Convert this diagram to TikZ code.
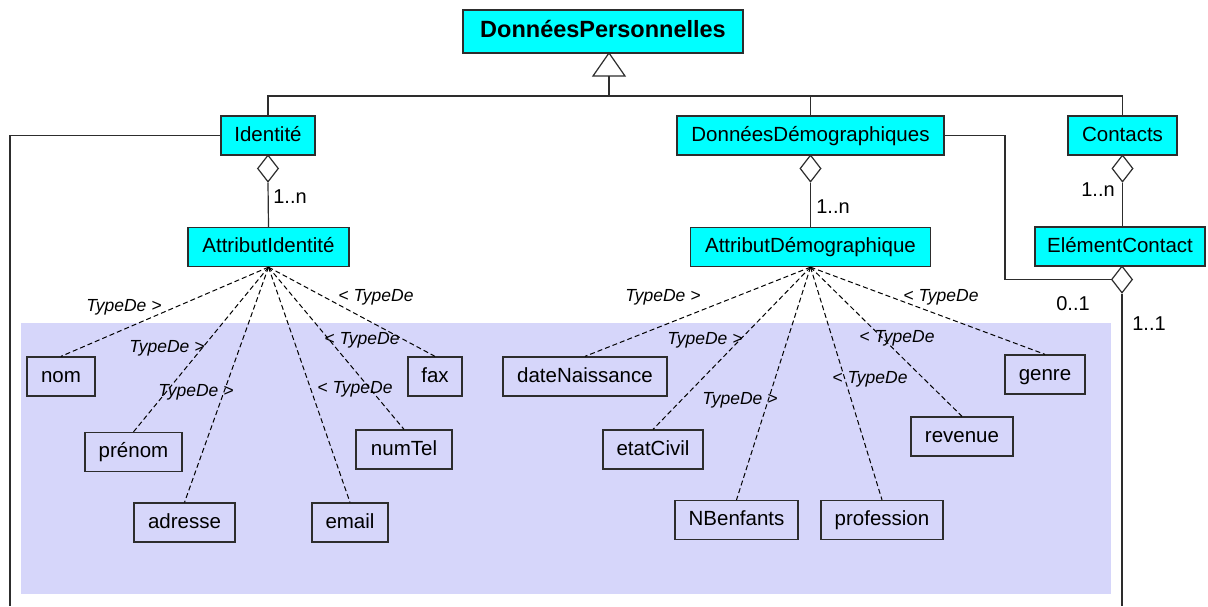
\documentclass[tikz,border=0pt]{standalone}
\usepackage{fontspec}
\setmainfont{Liberation Sans}
\usetikzlibrary{shapes.geometric}
\definecolor{cls}{RGB}{0,255,255}
\definecolor{lavbg}{RGB}{214,214,250}
\definecolor{edge}{RGB}{45,45,45}
\begin{document}
\begin{tikzpicture}[x=1pt,y=-1pt,
 cbox/.style={draw=edge, line width=1.3pt, fill=cls, inner sep=0pt, minimum height=39pt, text height=15pt, text depth=4pt, font=\fontsize{20.5}{24}\selectfont},
 abox/.style={draw=edge, line width=1.3pt, fill=lavbg, inner sep=0pt, minimum height=39pt, text height=15pt, text depth=4pt, font=\fontsize{20.5}{24}\selectfont},
 agg/.style={diamond, draw=edge, line width=1.2pt, fill=white, inner sep=0pt, minimum width=21pt, minimum height=27pt},
 conn/.style={draw=edge, line width=1.2pt},
 dep/.style={draw=black, line width=1pt, dash pattern=on 5pt off 3pt},
 tlab/.style={font=\fontsize{17.5}{19}\selectfont\itshape, inner sep=0pt},
 mult/.style={font=\fontsize{20}{22}\selectfont, inner sep=0pt}]
\useasboundingbox (0,0) rectangle (1208,606);
\fill[white] (0,0) rectangle (1208,606);
% shaded region
\fill[lavbg] (21,323) rectangle (1111,594);

% class boxes
\node[cbox, minimum width=280pt, minimum height=43pt, font=\fontsize{23.5}{26}\selectfont\bfseries] (dp) at (603,31.5) {DonnéesPersonnelles};
\node[cbox, minimum width=94pt] (id) at (268,135.5) {Identité};
\node[cbox, minimum width=267pt] (dd) at (810.5,135.5) {DonnéesDémographiques};
\node[cbox, minimum width=109pt] (ct) at (1122.5,135.5) {Contacts};
\node[cbox, minimum width=161pt] (aid) at (268.5,247) {AttributIdentité};
\node[cbox, minimum width=240pt] (adm) at (810.5,247) {AttributDémographique};
\node[cbox, minimum width=170pt] (ec) at (1120,246.5) {ElémentContact};

% attribute boxes
\node[abox, minimum width=68pt] (nom) at (61,376.5) {nom};
\node[abox, minimum width=97pt] (prenom) at (133.5,452) {prénom};
\node[abox, minimum width=101pt] (adresse) at (184.5,522.5) {adresse};
\node[abox, minimum width=76pt] (email) at (350,522.5) {email};
\node[abox, minimum width=96pt] (numtel) at (404,449.5) {numTel};
\node[abox, minimum width=54pt] (fax) at (435,376.5) {fax};
\node[abox, minimum width=164pt] (daten) at (585,376.5) {dateNaissance};
\node[abox, minimum width=100pt] (etat) at (653,449.5) {etatCivil};
\node[abox, minimum width=123pt] (nbenf) at (736.5,520) {NBenfants};
\node[abox, minimum width=122pt] (prof) at (882,520) {profession};
\node[abox, minimum width=102pt] (rev) at (962,436.5) {revenue};
\node[abox, minimum width=80pt] (genre) at (1045,374.5) {genre};

% generalisation
\coordinate (tl) at (593,76);
\coordinate (tr) at (625,76);
\coordinate (tb) at (609,76);
\coordinate (tt) at (609,53);
\coordinate (bus) at (609,96);
\draw[conn, fill=white] (tt) -- (tl) -- (tr) -- cycle;
\draw[conn] (tb) -- (bus);
\draw[conn] (id.north) |- (bus) -| (ct.north);
\draw[conn] (dd.north) -- (dd.north |- bus);

% aggregations
\node[agg] (did) at (268,168.5) {};
\node[agg] (ddd) at (810.5,168.5) {};
\node[agg] (dct) at (1122.5,168.5) {};
\node[agg] (dec) at (1122,279.5) {};
\draw[conn] (did.south) -- (aid.north);
\draw[conn] (ddd.south) -- (adm.north);
\draw[conn] (dct.south) -- (ec.north -| dct.south);
\node[mult] (m1) at (290,197) {1..n};
\node[mult] (m2) at (833,207) {1..n};
\node[mult] (m3) at (1098,190) {1..n};

% associations
\coordinate (ddr) at (1005,135.5);
\draw[conn] (dd.east) -- (ddr) |- (dec.west);
\coordinate (bot) at (1122,606);
\draw[conn] (dec.south) -- (bot);
\node[mult] (m01) at (1073,304) {0..1};
\node[mult] (m11) at (1149,324) {1..1};
\coordinate (lb) at (10,606);
\draw[conn] (id.west) -| (lb);

% TypeDe dependencies
\foreach \t in {nom,prenom,adresse,email,numtel,fax}{\draw[dep] (aid.south) -- (\t.north);}
\foreach \t in {daten,etat,nbenf,prof,rev,genre}{\draw[dep] (adm.south) -- (\t.north);}
\node[tlab] (l1) at (124,307) {TypeDe >};
\node[tlab] (l2) at (167,348) {TypeDe >};
\node[tlab] (l3) at (196,392) {TypeDe >};
\node[tlab] (l4) at (355,389) {< TypeDe};
\node[tlab] (l5) at (362,340) {< TypeDe};
\node[tlab] (l6) at (376,297) {< TypeDe};
\node[tlab] (l7) at (663,297) {TypeDe >};
\node[tlab] (l8) at (705,340) {TypeDe >};
\node[tlab] (l9) at (740,400) {TypeDe >};
\node[tlab] (l10) at (870,379) {< TypeDe};
\node[tlab] (l11) at (897,338) {< TypeDe};
\node[tlab] (l12) at (941,297) {< TypeDe};
\end{tikzpicture}
\end{document}
